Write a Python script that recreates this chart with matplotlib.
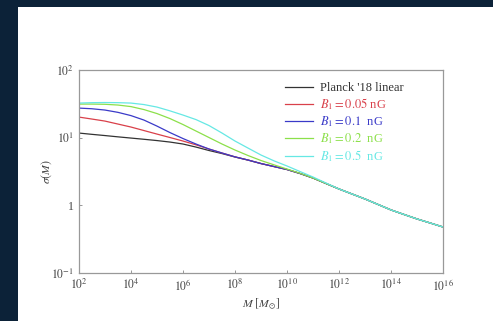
import numpy as np
import matplotlib
matplotlib.use("Agg")
import matplotlib.pyplot as plt
from matplotlib.patches import Rectangle

plt.rcParams['font.family'] = ['Liberation Serif', 'DejaVu Serif']
plt.rcParams['mathtext.fontset'] = 'stix'

# log10 of halo mass [M_sun], every half decade
log_m = [2, 2.5, 3, 3.5, 4, 4.5, 5, 5.5, 6, 6.5, 7, 7.5, 8, 8.5, 9, 9.5,
         10, 10.5, 11, 11.5, 12, 12.5, 13, 13.5, 14, 14.5, 15, 15.5, 16]

# log10 sigma(M)
logsig_planck = [1.068, 1.049, 1.031, 1.012, 0.994, 0.976, 0.957, 0.935, 0.906, 0.861,
                 0.810, 0.765, 0.714, 0.669, 0.617, 0.573, 0.529, 0.470, 0.403, 0.322,
                 0.241, 0.167, 0.093, 0.012, -0.069, -0.136, -0.202, -0.261, -0.321]
logsig_b005 = [1.304, 1.275, 1.245, 1.201, 1.157, 1.105, 1.053, 1.002, 0.950, 0.894,
               0.832, 0.773, 0.716, 0.669, 0.617, 0.573, 0.529, 0.470, 0.403, 0.322,
               0.241, 0.167, 0.093, 0.012, -0.069, -0.136, -0.202, -0.261, -0.321]
logsig_b01 = [1.437, 1.427, 1.408, 1.374, 1.326, 1.260, 1.171, 1.075, 0.987, 0.906,
              0.832, 0.773, 0.716, 0.669, 0.617, 0.573, 0.529, 0.470, 0.403, 0.322,
              0.241, 0.167, 0.093, 0.012, -0.069, -0.136, -0.202, -0.261, -0.321]
logsig_b02 = [1.496, 1.496, 1.493, 1.482, 1.459, 1.415, 1.356, 1.282, 1.194, 1.098,
              1.002, 0.906, 0.817, 0.736, 0.662, 0.598, 0.536, 0.473, 0.403, 0.322,
              0.241, 0.167, 0.093, 0.012, -0.069, -0.136, -0.202, -0.261, -0.321]
logsig_b05 = [1.511, 1.517, 1.519, 1.517, 1.511, 1.489, 1.452, 1.396, 1.334, 1.267,
              1.179, 1.068, 0.950, 0.846, 0.743, 0.657, 0.581, 0.499, 0.418, 0.329,
              0.241, 0.167, 0.093, 0.012, -0.069, -0.136, -0.202, -0.261, -0.321]

labels = ["Planck '18 linear", r"$B_1 = 0.05$ nG", r"$B_1 = 0.1$  nG",
          r"$B_1 = 0.2$  nG", r"$B_1 = 0.5$  nG"]
colors = ["#333333", "#d9404a", "#3a3ac8", "#8ce04a", "#66e8e4"]
series = [logsig_planck, logsig_b005, logsig_b01, logsig_b02, logsig_b05]

fig = plt.figure(figsize=(4.93, 3.21), dpi=100)
fig.patch.set_facecolor("#0c2238")
fig.patches.append(Rectangle((18/493, 0), 1, 1 - 7/321, transform=fig.transFigure,
                             facecolor="white", edgecolor="none", zorder=-10))

ax = fig.add_axes([0.160, 0.1495, 0.739, 0.6325])
ax.set_zorder(5)
m = 10.0 ** np.array(log_m)
for s, c, lab in zip(series, colors, labels):
    ax.plot(m, 10.0 ** np.array(s), color=c, lw=0.9, label=lab)

ax.set_xscale('log')
ax.set_yscale('log')
ax.set_xlim(1e2, 1e16)
ax.set_ylim(1e-1, 1e2)
ax.set_xticks([10.0**k for k in range(2, 17, 2)])
ax.set_xticklabels([r"$10^{%d}$" % k for k in range(2, 17, 2)])
ax.set_yticks([1e-1, 1, 1e1, 1e2])
ax.set_yticklabels([r"$10^{-1}$", "1", r"$10^{1}$", r"$10^{2}$"])
ax.minorticks_off()
ax.tick_params(direction='in', length=2, width=0.6, colors="#888888",
               labelcolor="#444444", labelsize=8.5)
for sp in ax.spines.values():
    sp.set_color("#999999")
    sp.set_linewidth(0.9)

ax.set_xlabel(r"$M\ [M_{\odot}]$", fontsize=8.5, color="#444444", labelpad=3)
ax.set_ylabel(r"$\sigma(M)$", fontsize=8.5, color="#444444", labelpad=-2)

leg = ax.legend(loc='upper left', frameon=False, fontsize=9, handlelength=2.25,
                handletextpad=0.55, labelspacing=0.18, borderpad=0, borderaxespad=0,
                bbox_to_anchor=(0.566, 0.94))
for txt, c in zip(leg.get_texts(), colors):
    txt.set_color(c)

fig.savefig("out.png", dpi=100, facecolor=fig.get_facecolor())
